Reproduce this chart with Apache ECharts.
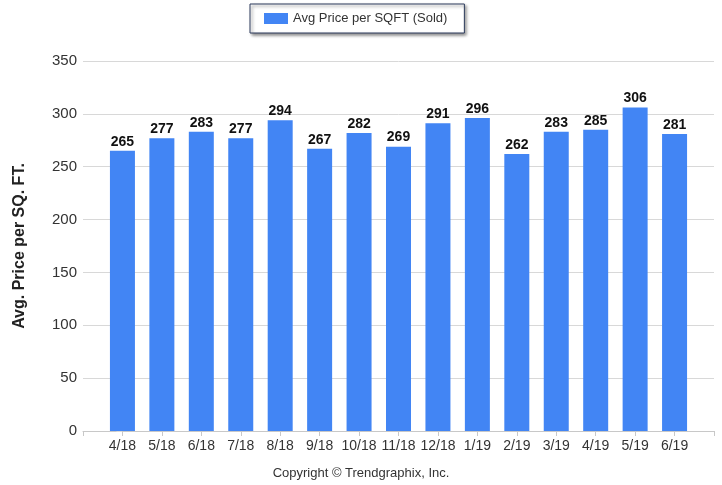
<!DOCTYPE html>
<html lang="en">
<head>
    <meta charset="UTF-8">
    <title>Avg Price per SQFT</title>
    <style>
        body { margin: 0; background: #fff; }
    </style>
</head>
<body>
<div id="main" style="width: 722px;height:485px;"></div>
<script src="https://cdn.jsdelivr.net/npm/echarts@6/dist/echarts.min.js"></script>
<script>
    var months = ['4/18', '5/18', '6/18', '7/18', '8/18', '9/18', '10/18', '11/18', '12/18', '1/19', '2/19', '3/19', '4/19', '5/19', '6/19'];
    var prices = [265, 277, 283, 277, 294, 267, 282, 269, 291, 296, 262, 283, 285, 306, 281];
    var yTicks = [0, 50, 100, 150, 200, 250, 300, 350];

    var font = 'Liberation Sans';
    var myChart = echarts.init(document.getElementById('main'));

    // bars sit on integer positions, with one empty slot each side like the original
    var points = prices.map(function (v, i) { return [i, v]; });

    var option = {
        backgroundColor: '#fff',
        animation: false,
        legend: {
            left: 250,
            top: 4,
            data: [{ name: 'Avg Price per SQFT (Sold)', icon: 'rect' }],
            itemWidth: 24,
            itemHeight: 11,
            padding: [8, 17, 8, 14],
            borderColor: '#2c3b5c',
            borderWidth: 1,
            backgroundColor: '#fff',
            shadowColor: 'rgba(0,0,0,0.45)',
            shadowBlur: 3,
            shadowOffsetX: 2,
            shadowOffsetY: 2,
            textStyle: { color: '#333', fontSize: 13, fontFamily: font }
        },
        grid: { left: 83, right: 8, top: 61, bottom: 54 },
        xAxis: {
            type: 'value',
            min: -1,
            max: months.length,
            interval: 1,
            splitLine: { show: false },
            axisLine: { lineStyle: { color: '#c8c8c8' } },
            axisTick: { show: true, length: 5, lineStyle: { color: '#c8c8c8' } },
            axisLabel: {
                color: '#333',
                fontSize: 14,
                fontFamily: font,
                margin: 8,
                formatter: function (v) { return months[v] || ''; }
            }
        },
        yAxis: {
            type: 'value',
            min: yTicks[0],
            max: yTicks[yTicks.length - 1],
            interval: 50,
            name: 'Avg. Price per SQ. FT.',
            nameLocation: 'middle',
            nameGap: 55,
            nameTextStyle: { color: '#222', fontSize: 16, fontWeight: 'bold', fontFamily: font },
            axisLine: { show: false },
            axisTick: { show: true, length: 6, lineStyle: { color: '#d8d8d8' } },
            splitLine: { lineStyle: { color: '#d8d8d8' } },
            axisLabel: { color: '#333', fontSize: 15, fontFamily: font, margin: 6 }
        },
        series: [{
            name: 'Avg Price per SQFT (Sold)',
            type: 'bar',
            barWidth: 25,
            data: points,
            itemStyle: { color: '#4285f4' },
            label: {
                show: true,
                position: 'top',
                distance: 2,
                color: '#111',
                fontSize: 14,
                fontWeight: 'bold',
                fontFamily: font,
                formatter: function (p) { return p.value[1]; }
            }
        }],
        graphic: [{
            type: 'text',
            left: 'center',
            top: 467,
            style: {
                text: 'Copyright \u00a9 Trendgraphix, Inc.',
                fill: '#333',
                fontSize: 13,
                fontFamily: font
            }
        }]
    };

    myChart.setOption(option);
</script>
</body>
</html>
